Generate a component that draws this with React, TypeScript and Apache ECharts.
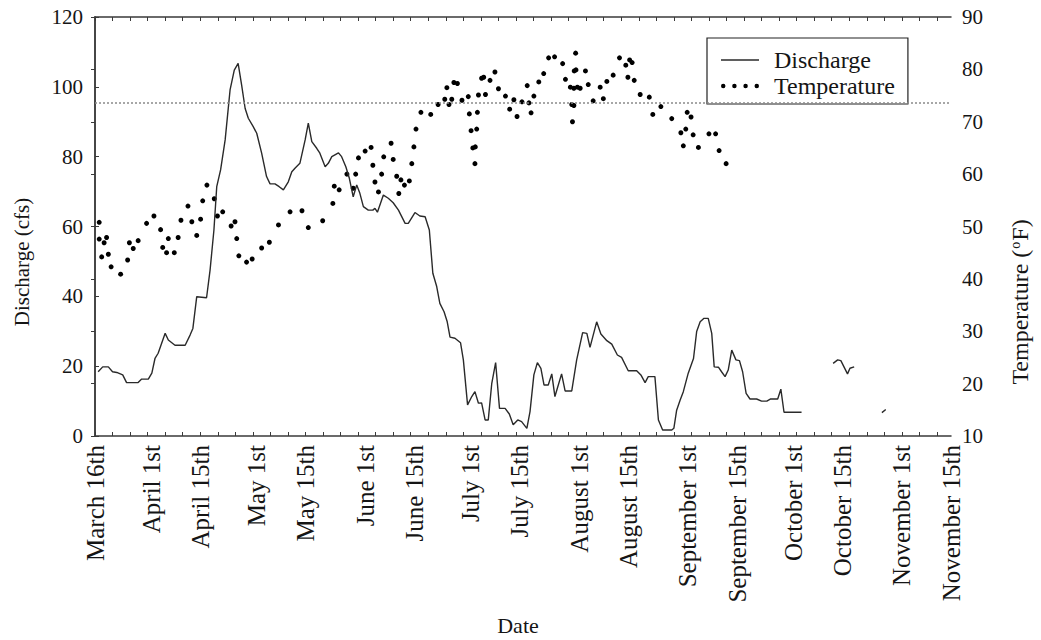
import React, { useEffect, useRef } from 'react';
import * as echarts from 'echarts';

// x values are days counted from March 16th
const tickLabels = ['March 16th', 'April 1st', 'April 15th', 'May 1st', 'May 15th', 'June 1st', 'June 15th', 'July 1st', 'July 15th', 'August 1st', 'August 15th', 'September 1st', 'September 15th', 'October 1st', 'October 15th', 'November 1st', 'November 15th'];
const tickDays = [0, 16, 30, 46, 60, 77, 91, 107, 121, 138, 152, 169, 183, 199, 213, 230, 244];

const dischargeDay = [0.9, 2.2, 3.8, 5.0, 6.2, 7.9, 9.0, 12.3, 13.3, 15.2, 16.2, 17.1, 18.0, 20.0, 20.9, 22.8, 25.7, 27.1, 27.9, 29.0, 31.8, 32.8, 33.9, 34.7, 35.8, 37.1, 38.5, 39.7, 40.8, 41.8, 42.8, 43.7, 45.1, 46.1, 47.5, 48.9, 49.9, 51.3, 52.5, 53.7, 55.1, 56.1, 57.0, 58.4, 59.9, 60.8, 61.8, 63.2, 64.1, 65.6, 66.5, 67.5, 69.4, 70.3, 71.5, 72.5, 73.6, 74.6, 75.5, 76.5, 77.9, 79.2, 79.8, 80.5, 82.2, 83.6, 85.0, 86.5, 88.4, 89.3, 91.2, 92.6, 94.1, 95.3, 96.3, 97.4, 98.3, 99.5, 100.4, 101.2, 102.6, 104.2, 105.0, 106.2, 107.4, 108.3, 109.3, 110.2, 111.2, 112.1, 113.1, 114.2, 115.3, 116.9, 118.1, 119.2, 120.5, 121.6, 123.1, 124.0, 125.1, 126.1, 127.1, 128.0, 129.2, 130.2, 131.1, 133.0, 134.0, 135.9, 137.3, 139.0, 140.2, 141.1, 143.0, 144.2, 145.9, 147.3, 148.9, 150.1, 152.0, 154.4, 155.6, 156.8, 157.7, 159.6, 160.6, 161.8, 164.4, 165.0, 165.8, 166.8, 167.7, 169.1, 170.6, 171.5, 172.5, 173.6, 174.8, 175.8, 176.5, 177.7, 178.6, 179.6, 180.5, 181.5, 182.7, 183.7, 184.6, 185.6, 186.7, 188.6, 190.0, 191.5, 192.6, 194.6, 195.5, 196.4, 201.4, 205, 210.4, 211.7, 212.6, 214.5, 215.2, 216.4, 220, 224.3, 225.4];
const dischargeCfs = [18.4, 19.8, 19.8, 18.4, 18.2, 17.5, 15.3, 15.3, 16.3, 16.3, 18.0, 22.2, 23.7, 29.4, 27.5, 26.0, 26.0, 28.9, 30.8, 39.9, 39.6, 47.5, 59.0, 71.4, 76.2, 84.8, 99.1, 104.8, 106.7, 100.5, 93.8, 91.0, 88.6, 86.7, 81.0, 74.3, 72.2, 72.2, 71.4, 70.5, 72.8, 75.7, 76.7, 78.1, 84.8, 89.6, 84.3, 82.4, 81.0, 77.1, 78.1, 80.0, 81.1, 80.0, 77.1, 73.8, 68.5, 71.9, 69.5, 65.7, 64.7, 64.7, 65.2, 64.1, 69.0, 68.1, 66.8, 64.7, 60.9, 60.9, 64.0, 63.0, 62.8, 59.0, 46.6, 42.8, 38.0, 35.6, 32.7, 28.3, 28.0, 26.7, 21.8, 8.9, 11.3, 12.7, 9.4, 9.5, 4.6, 4.6, 15.1, 21.0, 7.9, 7.9, 6.3, 3.2, 4.6, 4.1, 2.2, 7.0, 17.5, 21.0, 19.4, 14.6, 14.6, 17.8, 11.3, 17.8, 12.9, 12.9, 21.8, 29.6, 29.4, 25.4, 32.7, 29.2, 27.3, 26.3, 23.2, 22.5, 18.7, 18.7, 17.5, 15.3, 17.0, 17.0, 4.6, 1.7, 1.7, 2.2, 7.4, 10.3, 12.7, 18.0, 22.2, 29.9, 32.7, 33.7, 33.7, 29.4, 19.8, 19.7, 18.4, 17.0, 18.9, 24.6, 21.8, 21.6, 18.4, 12.2, 10.6, 10.6, 10.0, 10.0, 10.6, 10.6, 13.4, 6.8, 6.8, null, 20.8, 21.8, 21.6, 17.8, 19.4, 19.8, null, 6.7, 7.6];

const tempDay = [1.2, 1.2, 2.6, 3.3, 1.9, 3.8, 4.6, 7.3, 9.3, 9.8, 10.9, 12.3, 14.7, 16.8, 18.7, 19.3, 20.4, 20.9, 22.6, 23.7, 24.5, 26.5, 27.6, 29.0, 30.1, 30.7, 31.9, 34.0, 34.9, 36.4, 38.8, 39.9, 40.4, 41.0, 43.2, 44.8, 47.5, 49.7, 52.3, 55.6, 59.0, 60.8, 64.9, 67.8, 68.2, 69.6, 71.8, 73.6, 74.3, 75.1, 77.0, 78.7, 79.2, 79.8, 80.8, 81.7, 82.3, 84.4, 85.0, 86.0, 86.6, 87.2, 88.2, 89.6, 90.3, 90.9, 91.5, 92.9, 95.7, 97.8, 99.7, 100.3, 100.9, 101.7, 102.3, 103.3, 104.6, 106.4, 106.7, 107.2, 107.7, 108.4, 108.3, 108.8, 109.0, 109.3, 110.2, 110.8, 111.3, 112.6, 114.0, 115.0, 117.0, 118.2, 119.4, 120.3, 121.7, 123.2, 123.7, 124.3, 125.1, 126.5, 127.9, 129.3, 131.0, 133.3, 134.1, 135.5, 135.9, 136.5, 136.1, 136.5, 136.6, 137.1, 137.0, 137.5, 138.3, 139.8, 140.6, 142.0, 144.0, 144.9, 145.9, 147.7, 149.5, 151.3, 151.9, 152.4, 153.1, 153.7, 155.4, 158.0, 159.0, 161.3, 164.4, 167.0, 168.4, 167.7, 168.8, 169.9, 170.5, 172.0, 175.0, 176.9, 177.9, 179.9];
const tempF = [50.8, 47.6, 46.9, 47.9, 44.2, 44.7, 42.3, 40.9, 43.6, 46.9, 45.8, 47.3, 50.6, 52.0, 49.4, 46.0, 45.0, 47.7, 45.0, 47.9, 51.2, 53.9, 50.9, 48.3, 51.4, 54.9, 57.9, 55.3, 52.0, 52.8, 50.1, 50.9, 47.7, 44.4, 43.2, 43.8, 45.9, 47.0, 50.3, 52.8, 53.0, 49.8, 51.1, 54.4, 57.7, 57.0, 60.0, 57.3, 60.0, 63.1, 64.4, 65.1, 61.7, 58.5, 56.6, 60.0, 63.3, 65.9, 62.8, 59.6, 56.3, 58.9, 57.9, 58.7, 62.0, 65.2, 68.6, 71.8, 71.4, 73.3, 74.3, 76.5, 73.3, 74.3, 77.5, 77.3, 74.1, 74.8, 71.5, 68.3, 65.0, 65.2, 62.0, 68.6, 71.8, 75.1, 78.3, 78.5, 75.2, 77.9, 79.5, 76.3, 74.9, 72.4, 74.2, 71.0, 73.8, 76.9, 73.6, 71.7, 74.9, 77.6, 79.2, 82.2, 82.4, 81.1, 78.1, 76.6, 73.3, 73.1, 70.0, 76.4, 79.7, 79.9, 83.1, 76.6, 76.4, 79.7, 77.1, 74.0, 76.6, 74.4, 77.7, 78.9, 82.2, 80.8, 78.5, 81.8, 81.3, 77.9, 75.2, 74.7, 71.4, 72.9, 70.6, 67.9, 68.6, 65.4, 71.8, 70.9, 67.5, 65.1, 67.7, 67.7, 64.5, 62.0];

const thresholdF = 73.6;

const FONT = 'Liberation Serif';
const INK = '#151515';
const AXIS = '#3a3a3a';

const minorTicks: number[] = [];
for (let d = 0; d <= 244; d += 5) minorTicks.push(d);

export default function App() {
  const ref = useRef<HTMLDivElement>(null);
  useEffect(() => {
    const chart = echarts.init(ref.current as HTMLDivElement, null, { renderer: 'svg' });
    const dischargeData = dischargeDay.map((d, i) => [d, dischargeCfs[i]]);
    const tempData = tempDay.map((d, i) => [d, tempF[i]]);
    const axisLine = { show: true, lineStyle: { color: AXIS, width: 1.5 } };
    chart.setOption({
      animation: false,
      backgroundColor: '#fff',
      textStyle: { fontFamily: FONT },
      grid: { left: 95, right: 90, top: 17, bottom: 204, containLabel: false },
      legend: {
        orient: 'vertical',
        left: 707,
        top: 38,
        borderColor: '#222',
        borderWidth: 1.2,
        padding: [10, 13, 6, 14],
        itemGap: 2,
        itemWidth: 38,
        itemHeight: 14,
        textStyle: { fontFamily: FONT, fontSize: 24, color: INK, padding: [0, 0, 0, 10] },
        data: [
          { name: 'Discharge', icon: 'path://M0,0L40,0L40,1.5L0,1.5Z', itemStyle: { color: '#2a2a2a' } },
          { name: 'Temperature', icon: 'path://M0,2a2,2 0 1,0 4,0a2,2 0 1,0 -4,0M10,2a2,2 0 1,0 4,0a2,2 0 1,0 -4,0M20,2a2,2 0 1,0 4,0a2,2 0 1,0 -4,0M30,2a2,2 0 1,0 4,0a2,2 0 1,0 -4,0', itemStyle: { color: '#000' } },
        ],
      },
      xAxis: [
        {
          type: 'value',
          position: 'bottom',
          min: 0,
          max: 244,
          axisLine,
          splitLine: { show: false },
          axisTick: { show: true, inside: true, length: 4, customValues: minorTicks, lineStyle: { color: AXIS } },
          axisLabel: {
            customValues: tickDays,
            rotate: 90,
            margin: 9,
            fontFamily: FONT,
            fontSize: 25,
            color: INK,
            formatter: (v: number) => {
              const i = tickDays.indexOf(v);
              return i >= 0 ? tickLabels[i] : '';
            },
          },
        },
        {
          type: 'value',
          position: 'top',
          min: 0,
          max: 244,
          axisLine,
          splitLine: { show: false },
          axisTick: { show: true, inside: true, length: 4, customValues: minorTicks, lineStyle: { color: AXIS } },
          axisLabel: { show: false },
        },
      ],
      yAxis: [
        {
          type: 'value',
          position: 'left',
          min: 0,
          max: 120,
          interval: 20,
          axisLine,
          splitLine: { show: false },
          axisTick: { show: true, inside: true, length: 4, lineStyle: { color: AXIS } },
          axisLabel: { margin: 12, fontFamily: FONT, fontSize: 21, color: INK },
        },
        {
          type: 'value',
          position: 'right',
          min: 10,
          max: 90,
          interval: 10,
          axisLine,
          splitLine: { show: false },
          axisTick: { show: true, inside: true, length: 4, lineStyle: { color: AXIS } },
          axisLabel: { margin: 11, fontFamily: FONT, fontSize: 21, color: INK },
        },
      ],
      series: [
        {
          name: 'Discharge',
          type: 'line',
          xAxisIndex: 0,
          yAxisIndex: 0,
          data: dischargeData,
          symbol: 'none',
          connectNulls: false,
          lineStyle: { color: '#2a2a2a', width: 1.4 },
          itemStyle: { color: '#2a2a2a' },
        },
        {
          name: 'Temperature',
          type: 'scatter',
          xAxisIndex: 0,
          yAxisIndex: 1,
          data: tempData,
          symbol: 'circle',
          symbolSize: 5,
          itemStyle: { color: '#000', opacity: 1 },
          markLine: {
            silent: true,
            symbol: 'none',
            label: { show: false },
            lineStyle: { color: '#8a8a8a', type: [2, 2], width: 1.5 },
            data: [{ yAxis: thresholdF }],
          },
        },
      ],
      graphic: [
        {
          type: 'text',
          x: 22,
          y: 262,
          rotation: Math.PI / 2,
          style: { text: 'Discharge (cfs)', fontFamily: FONT, fontSize: 21, fill: INK, align: 'center', verticalAlign: 'middle' },
        },
        {
          type: 'text',
          x: 1020,
          y: 302,
          rotation: Math.PI / 2,
          style: {
            text: 'Temperature ({sup|o}F)',
            fontFamily: FONT,
            fontSize: 24,
            fill: INK,
            align: 'center',
            verticalAlign: 'middle',
            rich: { sup: { fontFamily: FONT, fontSize: 14, fill: INK, verticalAlign: 'top', padding: [0, 1, 10, 1] } },
          },
        },
        {
          type: 'text',
          x: 518,
          y: 614,
          style: { text: 'Date', fontFamily: FONT, fontSize: 22, fill: INK, align: 'center', verticalAlign: 'top' },
        },
      ],
    });
    return () => chart.dispose();
  }, []);
  return <div ref={ref} style={{ position: 'fixed', left: 0, top: 0, width: 1041, height: 640 }} />;
}
